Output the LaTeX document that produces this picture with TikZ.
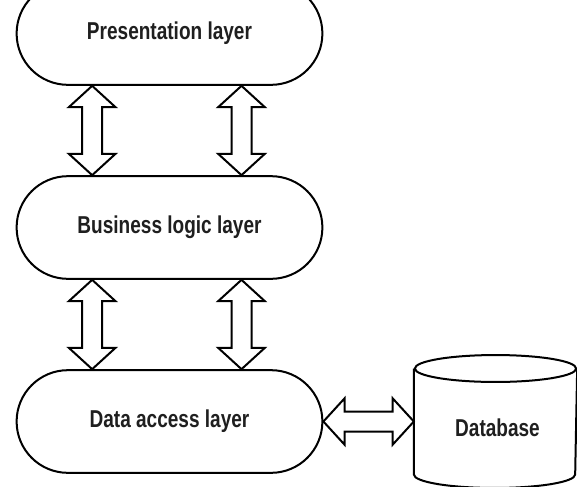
\documentclass[tikz,border=0pt]{standalone}
\usepackage{fontspec}
\newfontfamily\layerfont[FakeStretch=0.78]{Liberation Sans}
\usetikzlibrary{shapes.misc,calc}

\tikzset{every picture/.style={line width=1.5pt}}
\tikzset{
  layer/.style={rounded rectangle, draw, fill=white, minimum width=236pt, minimum height=77pt,
    font=\layerfont\bfseries\fontsize{18.3}{22}\selectfont, text=black!88},
  dbbox/.style={rectangle, minimum width=121pt, minimum height=78pt, inner sep=0pt},
  hollow/.style={draw, fill=white, line join=miter}
}
% fat two-headed arrow between two points
\newcommand{\hollowarrow}[2]{%
  \coordinate (ha) at ($(#1)!16pt!(#2)$);
  \coordinate (hb) at ($(#2)!16pt!(#1)$);
  \draw[hollow] (#1) -- ($(ha)!17.5pt!90:(#2)$) -- ($(ha)!7.5pt!90:(#2)$)
    -- ($(hb)!7.5pt!-90:(#1)$) -- ($(hb)!17.5pt!-90:(#1)$) -- (#2)
    -- ($(hb)!17.5pt!90:(#1)$) -- ($(hb)!7.5pt!90:(#1)$)
    -- ($(ha)!7.5pt!-90:(#2)$) -- ($(ha)!17.5pt!-90:(#2)$) -- cycle;}

\begin{document}
\begin{tikzpicture}[x=0.75pt,y=0.75pt,yscale=-1,xscale=1]
\useasboundingbox (0,0) rectangle (577,486);
\clip (0,0) rectangle (577,486);

%Shape: Rounded Rect (top one runs off the page)
\node[layer] (pres) at (169.5,33.5) {Presentation layer};
\node[layer] (bus) at (169.5,227.5) {Business logic layer};
\node[layer] (dal) at (169.5,421.5) {Data access layer};

%Shape: Can
\node[dbbox] (db) at (495.5,421.5) {};
\draw (db.north west) -- (db.south west)
  arc[start angle=180, end angle=0, x radius=60.5pt, y radius=10.1pt] -- (db.north east);
\draw (db.north) ellipse [x radius=60.5pt, y radius=10.1pt];

% Text Node
\node[font=\layerfont\bfseries\fontsize{18.3}{22}\selectfont, text=black!88] (dbname) at (497.5,428) {Database};

%Double Arrows
\hollowarrow{[xshift=-58pt]pres.south}{[xshift=-58pt]bus.north}
\hollowarrow{[xshift=54pt]pres.south}{[xshift=54pt]bus.north}
\hollowarrow{[xshift=-58pt]bus.south}{[xshift=-58pt]dal.north}
\hollowarrow{[xshift=54pt]bus.south}{[xshift=54pt]dal.north}
\hollowarrow{dal.east}{db.west}

\end{tikzpicture}
\end{document}
